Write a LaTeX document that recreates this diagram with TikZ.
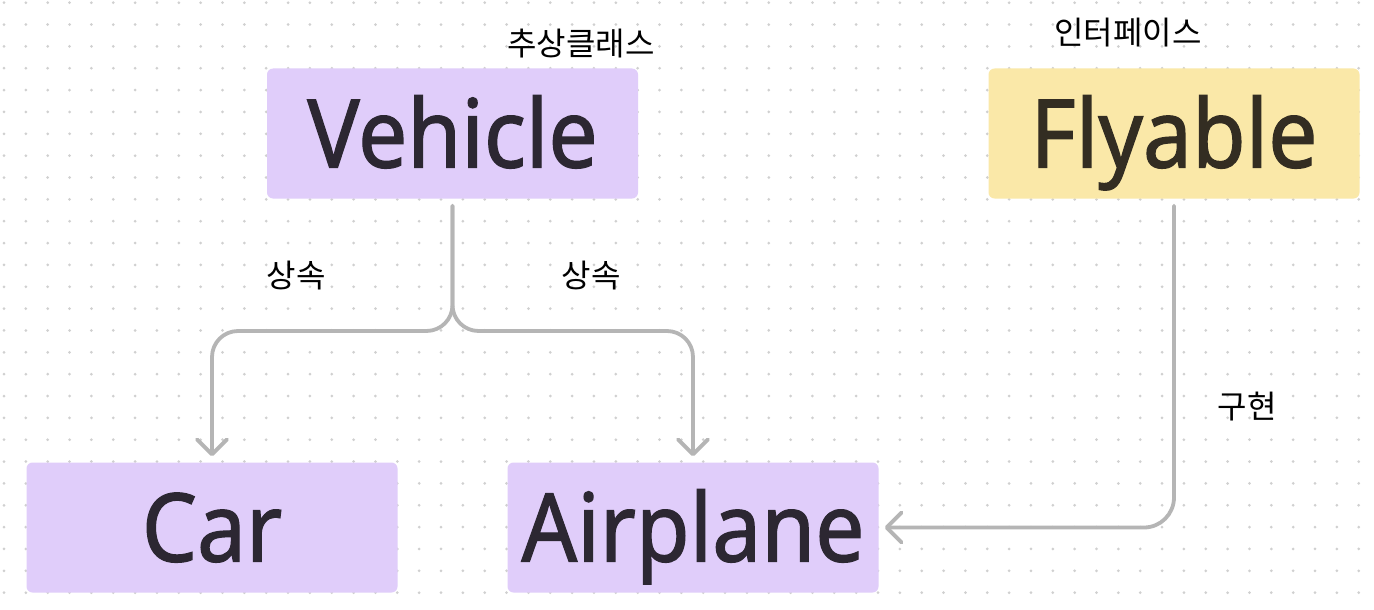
\documentclass[tikz,border=0pt]{standalone}
\usepackage{fontspec}
\setmainfont{Noto Sans}
\newfontfamily\boxf{Noto Sans}[FakeStretch=0.92,FakeBold=1.3]
\newfontfamily\kr{Noto Sans CJK KR}
\usetikzlibrary{arrows.meta}
\definecolor{lav}{RGB}{224,205,250}
\definecolor{sand}{RGB}{250,232,168}
\definecolor{lavtext}{RGB}{44,39,50}
\definecolor{sandtext}{RGB}{51,45,34}
\definecolor{wire}{RGB}{181,181,181}
\definecolor{dotc}{RGB}{208,208,208}
\tikzset{
  box/.style={rectangle, rounded corners=6pt, inner sep=0pt, minimum width=371pt, minimum height=130pt,
    text height=68pt, text depth=0pt, font=\boxf\fontsize{95}{95}\selectfont},
  abox/.style={box, fill=lav, text=lavtext},
  ibox/.style={box, fill=sand, text=sandtext},
  lbl/.style={inner sep=0pt, font=\kr\fontsize{32}{32}\selectfont, text=black},
  conn/.style={draw=wire, line width=3.8pt, line cap=round, line join=round,
    -{Straight Barb[length=15pt,width=30pt,line cap=round,line join=round]}},
}
\begin{document}
\begin{tikzpicture}[x=1pt,y=-1pt]
\useasboundingbox (0,0) rectangle (1374,610);
\fill[white] (0,0) rectangle (1374,610);
\foreach \i in {0,...,62} {
  \foreach \j in {0,...,27} {
    \fill[dotc] ({4+21.85*\i},{2.7+21.85*\j}) circle (1.5);
  }
}
\node[abox] (veh) at (452.5,133.5) {Vehicle};
\node[ibox] (fly) at (1174,133.5) {Flyable};
\node[abox] (car) at (212,527.5) {Car};
\node[abox] (air) at (693,527.5) {Airplane};
\node[lbl] (labs) at (581,44) {추상클래스};
\node[lbl] (labi) at (1128,33) {인터페이스};
\node[lbl] (inh1) at (296,276) {상속};
\node[lbl] (inh2) at (591,276) {상속};
\node[lbl] (impl) at (1247,407) {구현};
\coordinate (split) at (452.5,331);
\draw[conn, rounded corners=26pt] ([yshift=-7pt]veh.south) -- (split) -| ([yshift=6pt]car.north);
\draw[conn, rounded corners=26pt] ([yshift=-7pt]veh.south) -- (split) -| ([yshift=6pt]air.north);
\draw[conn, rounded corners=30pt] ([yshift=-7pt]fly.south) |- ([xshift=6pt]air.east);
\end{tikzpicture}
\end{document}
